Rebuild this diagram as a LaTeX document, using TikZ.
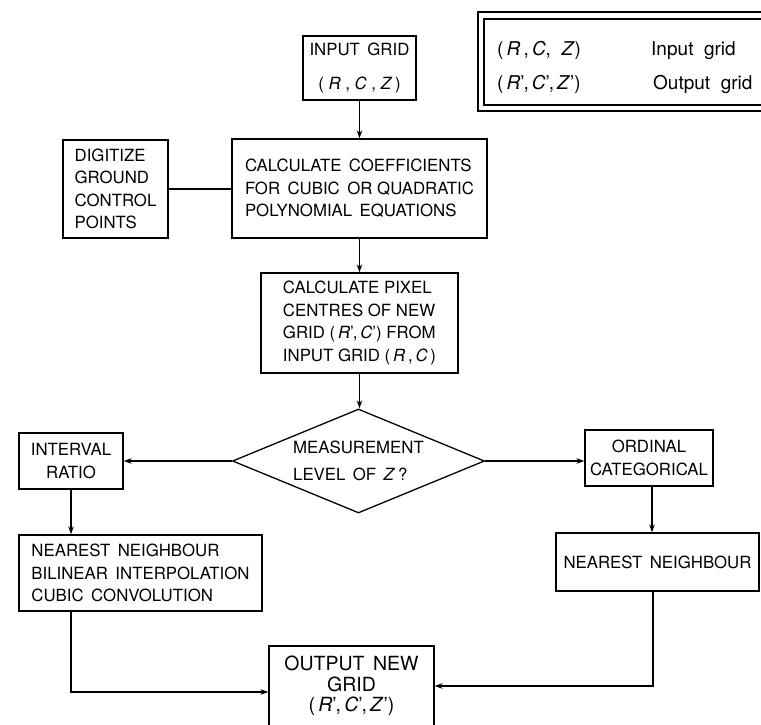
\documentclass[tikz,border=0pt]{standalone}
\usepackage{fontspec}
\setmainfont{TeX Gyre Heros}
\usetikzlibrary{shapes.geometric,arrows.meta}
\newcommand{\mainsz}{\fontsize{16.8}{22.5}\selectfont}
\newcommand{\outsz}{\fontsize{19.5}{20.5}\selectfont}
\newcommand{\legsz}{\fontsize{19}{24}\selectfont}
\newcommand{\iR}{\textit{R}}
\newcommand{\iC}{\textit{C}}
\newcommand{\iZ}{\textit{Z}}
\begin{document}
\begin{tikzpicture}[x=1pt,y=-1pt,
  box/.style={draw, line width=1.3pt, inner sep=0pt, font=\mainsz, align=center},
  lbox/.style={box, align=left},
  arr/.style={line width=1.3pt, -{Stealth[length=8pt,width=5.5pt]}},
  conn/.style={line width=1.3pt},
  frame/.style={line width=1.4pt},
  legtxt/.style={font=\legsz, inner sep=0pt, anchor=base west}]
\clip (0,0) rectangle (761,724);
\fill[white] (0,0) rectangle (761,724);

% legend
\draw[frame] (478,12) rectangle (790,111);
\draw[frame] (484,19) rectangle (790,105);
\node[legtxt] (l1a) at (497,55) {(\,\iR\,,\,\iC,\; \iZ)};
\node[legtxt] (l1b) at (651,55) {Input\; grid};
\node[legtxt] (l2a) at (497,89) {(\,\iR',\,\iC',\,\iZ')};
\node[legtxt] (l2b) at (653,89) {Output\; grid};

% boxes
\node[box, minimum width=113pt, minimum height=64pt] (input) at (359.5,68)
  {INPUT\, GRID\\[11pt](\;\iR\;,\;\iC\;,\;\iZ\,)};
\node[lbox, minimum width=105pt, minimum height=98pt] (dig) at (115.5,189)
  {DIGITIZE\\GROUND\\CONTROL\\POINTS};
\node[lbox, minimum width=255pt, minimum height=99pt] (calc) at (359.5,188.5)
  {CALCULATE\, COEFFICIENTS\\FOR\, CUBIC\, OR QUADRATIC\\POLYNOMIAL\, EQUATIONS};
\node[lbox, minimum width=197pt, minimum height=100pt] (pix) at (359.5,323)
  {CALCULATE PIXEL\\CENTRES OF NEW\\GRID (\,\iR',\,\iC') FROM\\INPUT GRID (\,\iR\,,\,\iC\,)};
\node[box, diamond, aspect=2.42, minimum width=252pt, minimum height=104pt, align=left] (dia) at (358.5,461)
  {MEASUREMENT\\[4.5pt]LEVEL\, OF\, \iZ\,?};
\node[box, minimum width=104pt, minimum height=56pt] (intv) at (71,461)
  {INTERVAL\\RATIO};
\node[box, minimum width=128pt, minimum height=56pt] (ord) at (649,458)
  {ORDINAL\\CATEGORICAL};
\node[lbox, minimum width=243pt, minimum height=76pt] (nnl) at (140.5,573)
  {NEAREST\, NEIGHBOUR\\BILINEAR\, INTERPOLATION\\CUBIC\, CONVOLUTION};
\node[box, minimum width=203pt, minimum height=58pt] (nnr) at (657.5,562)
  {NEAREST\, NEIGHBOUR};
\node[box, font=\outsz, minimum width=165pt, minimum height=80pt] (out) at (351.5,686)
  {OUTPUT\, NEW\\GRID\\(\,\iR',\,\iC',\,\iZ')};

% connectors
\draw[arr] (input) -- (calc);
\draw[conn] (dig.east) -- (dig.east -| calc.west);
\draw[arr] (calc) -- (pix);
\draw[arr] (pix.south) -- (pix.south |- dia.north);
\draw[arr] (dia.west) -- (intv.east);
\draw[arr] (dia.east) -- (dia.east -| ord.west);
\draw[arr] (intv.south) -- (intv.south |- nnl.north);
\draw[arr] ([xshift=3pt]ord.south) -- ([xshift=3pt]ord.south |- nnr.north);
\draw[arr] (intv.south |- nnl.south) |- ([yshift=-6pt]out.west);
\draw[arr] ([xshift=-4.5pt]nnr.south) |- (out.east);
\end{tikzpicture}
\end{document}
